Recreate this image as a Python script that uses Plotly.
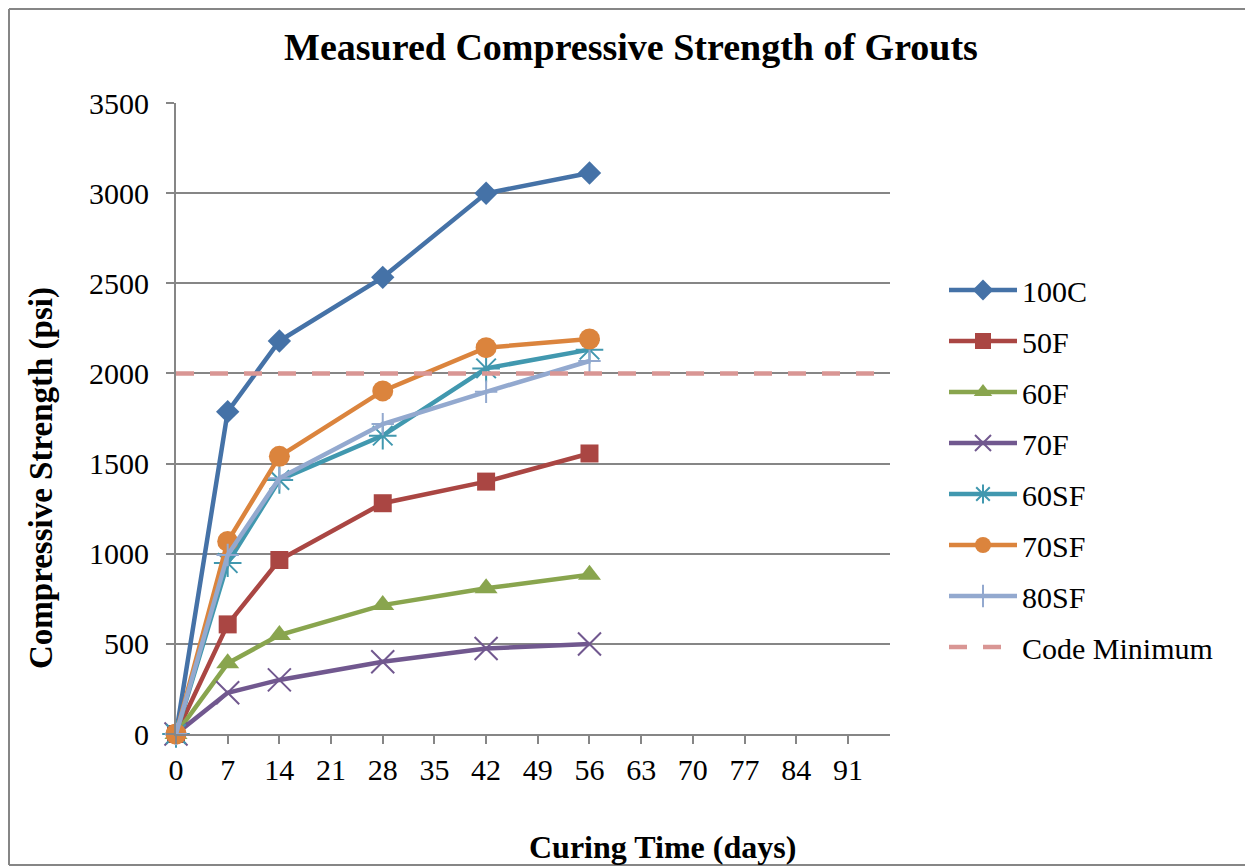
import plotly.graph_objects as go

days = [0, 7, 14, 28, 42, 56]
s_100C = [0, 1788, 2180, 2533, 2999, 3112]
s_50F = [0, 608, 965, 1280, 1400, 1556]
s_60F = [0, 392, 549, 715, 808, 883]
s_70F = [0, 229, 300, 401, 474, 499]
s_60SF = [0, 948, 1409, 1655, 2028, 2132]
s_70SF = [0, 1068, 1540, 1903, 2143, 2191]
s_80SF = [0, 993, 1418, 1719, 1898, 2069]
code_days = [0, 96.7]
code_min = [2000, 2000]

x_ticks = list(range(0, 92, 7))
y_ticks = list(range(0, 3501, 500))

FONT = "Liberation Serif, Times New Roman, serif"

# figure is placed at an 8px page offset (body margin)
W, H = 1245, 859
L, R, T, B = 168, 882, 95, 726  # plot area in figure pixels
PW, PH = R - L, B - T


def px(xp):
    return (xp - 8 - L) / PW


def py(yp):
    return (B - (yp - 8)) / PH


series = [
    ("100C", s_100C, "#4572A7", dict(symbol="diamond", size=18)),
    ("50F", s_50F, "#AA4643", dict(symbol="square", size=18)),
    ("60F", s_60F, "#89A54E", dict(symbol="triangle-up", size=20)),
    ("70F", s_70F, "#71588F", dict(symbol="x-thin", size=23, line=dict(width=2, color="#71588F"))),
    ("60SF", s_60SF, "#4198AF", dict(symbol="asterisk", size=23, line=dict(width=2, color="#4198AF"))),
    ("70SF", s_70SF, "#DB843D", dict(symbol="circle", size=21)),
    ("80SF", s_80SF, "#93A9CF", dict(symbol="cross-thin", size=16, line=dict(width=2, color="#93A9CF"))),
]

fig = go.Figure()
for name, vals, color, mk in series:
    mk = dict(mk)
    mk["color"] = color
    fig.add_trace(go.Scatter(
        x=days, y=vals, name=name, mode="lines+markers",
        line=dict(color=color, width=4.5),
        marker=mk, cliponaxis=False, legendgroup=name,
    ))

fig.add_trace(go.Scatter(
    x=code_days, y=code_min, name="Code Minimum", mode="lines",
    line=dict(color="#D99694", width=4.5, dash="18px,16px"),
    cliponaxis=True, legendgroup="code",
))

border = dict(color="#868686", width=2)
bx0, bx1 = px(9), px(1253)
by0, by1 = py(865), py(9)

fig.update_layout(
    width=W, height=H,
    margin=dict(l=L, r=W - R, t=T, b=H - B),
    paper_bgcolor="white", plot_bgcolor="white",
    font=dict(family=FONT, size=30, color="black"),
    title=dict(text="<b>Measured Compressive Strength of Grouts</b>",
               font=dict(family=FONT, size=38, color="black"),
               x=(631 - 8) / W, xref="container", xanchor="center",
               y=1 - 39 / H, yref="container", yanchor="middle"),
    showlegend=True,
    legend=dict(x=px(944), y=py(264), xanchor="left", yanchor="top",
                font=dict(family=FONT, size=30, color="black"),
                tracegroupgap=9, itemwidth=68, bgcolor="rgba(0,0,0,0)"),
    xaxis=dict(range=[0, 96.7], tickvals=x_ticks, ticktext=[str(v) for v in x_ticks],
               showgrid=False, zeroline=False, showline=True, linecolor="#868686", linewidth=2,
               ticks="outside", ticklen=8, tickwidth=2, tickcolor="#868686",
               tickfont=dict(family=FONT, size=30, color="black"), ticklabelstandoff=0),
    yaxis=dict(range=[0, 3500], tickvals=y_ticks, ticktext=[str(v) for v in y_ticks],
               showgrid=True, gridcolor="#868686", gridwidth=2, zeroline=False,
               showline=True, linecolor="#868686", linewidth=2,
               ticks="outside", ticklen=8, tickwidth=2, tickcolor="#868686",
               tickfont=dict(family=FONT, size=30, color="black"), ticklabelstandoff=11),
    annotations=[
        dict(text="<b>Curing Time (days)</b>", xref="paper", yref="paper",
             x=px(662), y=py(847), xanchor="center", yanchor="middle",
             showarrow=False, font=dict(family=FONT, size=32, color="black")),
        dict(text="<b>Compressive Strength (psi)</b>", xref="paper", yref="paper",
             x=px(41), y=py(478), xanchor="center", yanchor="middle",
             textangle=-90, showarrow=False, font=dict(family=FONT, size=33, color="black")),
    ],
    shapes=[
        dict(type="line", xref="paper", yref="paper", x0=bx0, x1=bx1, y0=by1, y1=by1, line=border, layer="below"),
        dict(type="line", xref="paper", yref="paper", x0=bx0, x1=bx0, y0=by0, y1=by1, line=border, layer="below"),
        dict(type="line", xref="paper", yref="paper", x0=bx0, x1=bx1, y0=by0, y1=by0, line=border, layer="below"),
    ],
)

fig.write_html("out.html")
